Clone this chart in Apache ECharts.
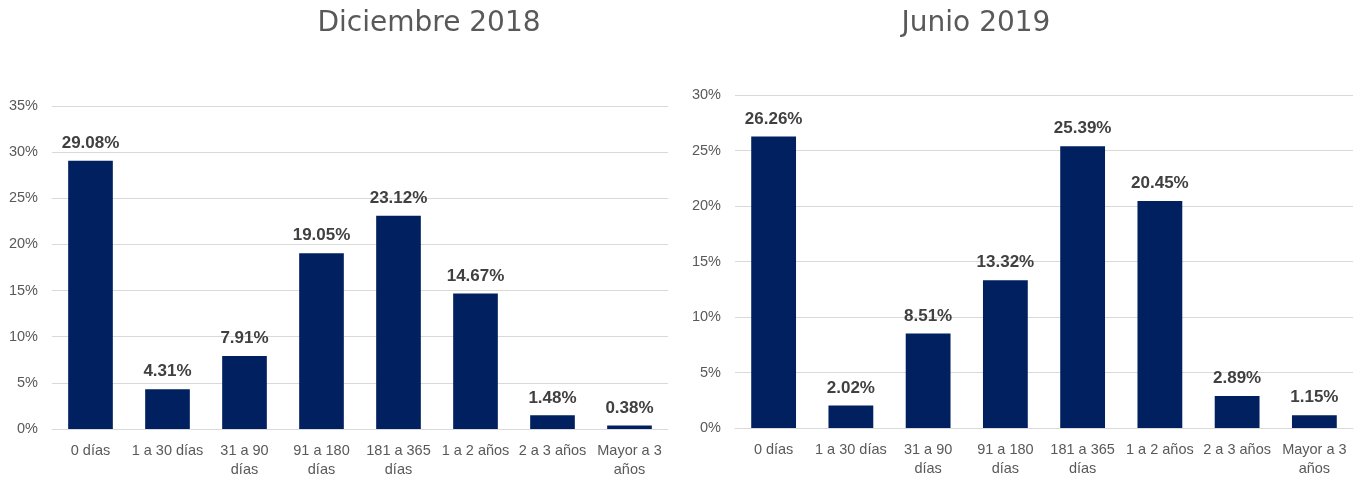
<!DOCTYPE html>
<html>
<head>
<meta charset="utf-8">
<script src="https://cdn.jsdelivr.net/npm/echarts@6/dist/echarts.min.js"></script>
<style>html,body{margin:0;padding:0;background:#fff;}#c{width:1367px;height:480px;}</style>
</head>
<body>
<div id="c"></div>
<script>
const categories = ['0 días', '1 a 30 días', '31 a 90\ndías', '91 a 180\ndías', '181 a 365\ndías', '1 a 2 años', '2 a 3 años', 'Mayor a 3\naños'];
const dic2018 = [29.08, 4.31, 7.91, 19.05, 23.12, 14.67, 1.48, 0.38];
const jun2019 = [26.26, 2.02, 8.51, 13.32, 25.39, 20.45, 2.89, 1.15];
const titles = ['Diciembre 2018', 'Junio 2019'];

const font = 'Liberation Sans, Arial, sans-serif';
const chart = echarts.init(document.getElementById('c'));
function xAxis(i) {
  return {
    type: 'category', gridIndex: i, data: categories,
    axisLine: {lineStyle: {color: '#d9d9d9'}},
    axisTick: {show: false},
    axisLabel: {color: '#595959', fontSize: 14.5, fontFamily: font, interval: 0, margin: 12, lineHeight: 19}
  };
}
function yAxis(i, max) {
  return {
    type: 'value', gridIndex: i, min: 0, max: max, interval: 5,
    axisLine: {show: false}, axisTick: {show: false},
    splitLine: {lineStyle: {color: '#d9d9d9'}},
    axisLabel: {color: '#595959', fontSize: 14.5, fontFamily: font, formatter: '{value}%', margin: 14}
  };
}
function series(i, data) {
  return {
    type: 'bar', xAxisIndex: i, yAxisIndex: i, data: data, barWidth: '58%',
    itemStyle: {color: '#002060'},
    label: {show: true, position: 'top', color: '#404040', fontWeight: 'bold', fontSize: 17, fontFamily: font,
      formatter: p => p.value.toFixed(2) + '%', distance: 9}
  };
}
const titleStyle = {color: '#595959', fontSize: 28, fontWeight: 'normal', fontFamily: 'DejaVu Sans, Verdana, sans-serif'};
chart.setOption({
  animation: false,
  title: [
    {text: titles[0], left: 424, top: 5, textAlign: 'center', textStyle: titleStyle},
    {text: titles[1], left: 971, top: 5, textAlign: 'center', textStyle: titleStyle}
  ],
  grid: [
    {left: 52, right: 699, top: 106, bottom: 51},
    {left: 735, right: 14, top: 95, bottom: 52}
  ],
  xAxis: [xAxis(0), xAxis(1)],
  yAxis: [yAxis(0, 35), yAxis(1, 30)],
  series: [series(0, dic2018), series(1, jun2019)]
});
</script>
</body>
</html>
